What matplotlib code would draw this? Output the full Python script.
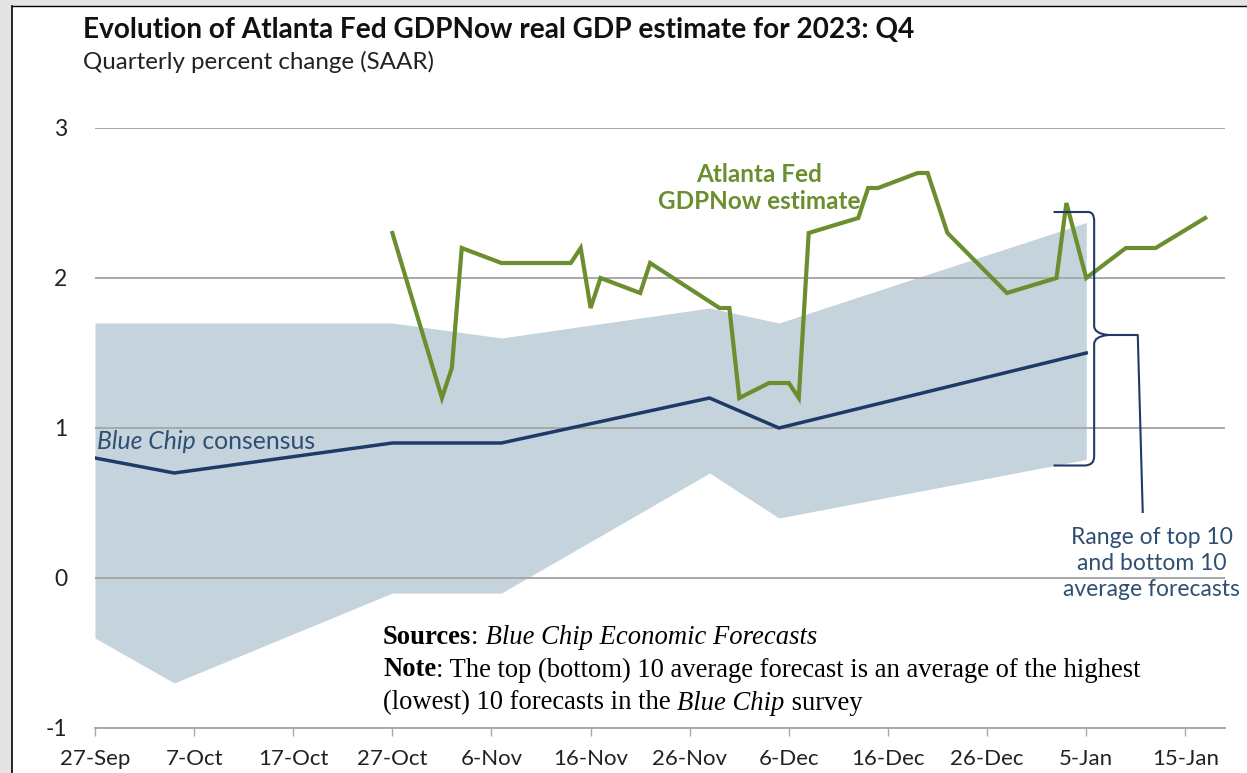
import numpy as np
import matplotlib
matplotlib.use("Agg")
import matplotlib.pyplot as plt
import matplotlib.dates as mdates
from matplotlib.path import Path
from matplotlib.patches import PathPatch, Rectangle
from matplotlib.lines import Line2D

# GDPNow estimates (Atlanta Fed)
gdpnow_dates = np.array([
    "2023-10-27", "2023-11-01", "2023-11-02", "2023-11-03", "2023-11-07",
    "2023-11-14", "2023-11-15", "2023-11-16", "2023-11-17", "2023-11-21",
    "2023-11-22", "2023-11-29", "2023-11-30", "2023-12-01", "2023-12-04",
    "2023-12-06", "2023-12-07", "2023-12-08", "2023-12-13", "2023-12-14",
    "2023-12-15", "2023-12-19", "2023-12-20", "2023-12-22", "2023-12-28",
    "2024-01-02", "2024-01-03", "2024-01-05", "2024-01-09", "2024-01-12",
    "2024-01-17"], dtype="datetime64[D]")
gdpnow_values = [2.3, 1.2, 1.4, 2.2, 2.1, 2.1, 2.2, 1.8, 2.0, 1.9,
                 2.1, 1.8, 1.8, 1.2, 1.3, 1.3, 1.2, 2.3, 2.4, 2.6,
                 2.6, 2.7, 2.7, 2.3, 1.9, 2.0, 2.5, 2.0, 2.2, 2.2, 2.4]

# Blue Chip survey
bc_dates = np.array(["2023-09-27", "2023-10-05", "2023-10-27", "2023-11-07",
                     "2023-11-28", "2023-12-05", "2024-01-05"], dtype="datetime64[D]")
bc_consensus = [0.8, 0.7, 0.9, 0.9, 1.2, 1.0, 1.5]
bc_top10 = [1.7, 1.7, 1.7, 1.6, 1.8, 1.7, 2.37]
bc_bottom10 = [-0.4, -0.7, -0.1, -0.1, 0.7, 0.4, 0.79]

tick_dates = np.array(["2023-09-27", "2023-10-07", "2023-10-17", "2023-10-27",
                       "2023-11-06", "2023-11-16", "2023-11-26", "2023-12-06",
                       "2023-12-16", "2023-12-26", "2024-01-05", "2024-01-15"],
                      dtype="datetime64[D]")
tick_labels = ["27-Sep", "7-Oct", "17-Oct", "27-Oct", "6-Nov", "16-Nov",
               "26-Nov", "6-Dec", "16-Dec", "26-Dec", "5-Jan", "15-Jan"]
y_ticks = [-1, 0, 1, 2, 3]

GREEN = "#6b8e2e"
NAVY = "#1f3a68"
LABEL_BLUE = "#2f4f72"
BAND = "#c5d3dd"
GRID = "#a8a8a8"
SANS = "Lato"

W, H = 1247, 773
fig = plt.figure(figsize=(W / 100, H / 100), dpi=100)
fig.patch.set_facecolor("#e4e4e4")
fig.add_artist(Rectangle((12 / W, 0), 1 - 12 / W, 1 - 6 / H, transform=fig.transFigure,
                         facecolor="white", edgecolor="none", zorder=-10))
fig.add_artist(Line2D([12 / W, 12 / W], [0, 1 - 6 / H], color="black", lw=1.2))
fig.add_artist(Line2D([12 / W, 1], [1 - 6 / H, 1 - 6 / H], color="black", lw=1.0))

ax = fig.add_axes([95 / W, 1 - 728 / H, 1130 / W, 600 / H])
ax.set_facecolor("none")

x_bc = mdates.date2num(bc_dates)
x_gn = mdates.date2num(gdpnow_dates)

ax.fill_between(x_bc, bc_bottom10, bc_top10, color=BAND, lw=0, zorder=1)
for y in y_ticks[1:]:
    ax.axhline(y, color=GRID, lw=1.4, zorder=2)
ax.plot(x_bc, bc_consensus, color=NAVY, lw=2.5, zorder=3, solid_joinstyle="miter")
ax.plot(x_gn, gdpnow_values, color=GREEN, lw=3.0, zorder=4, solid_joinstyle="miter")

ax.set_xlim(mdates.date2num(np.datetime64("2023-09-27")),
            mdates.date2num(np.datetime64("2024-01-19")))
ax.set_ylim(-1, 3)
ax.set_xticks(mdates.date2num(tick_dates))
ax.set_xticklabels(tick_labels, fontsize=16, family=SANS, color="#222222")
ax.set_yticks(y_ticks)
ax.set_yticklabels([str(v) for v in y_ticks], fontsize=16.5, family=SANS, color="#222222")
ax.tick_params(axis="x", length=6, width=1, color=GRID, pad=9)
ax.tick_params(axis="y", length=0, pad=20)
for s in ["top", "right", "left"]:
    ax.spines[s].set_visible(False)
ax.spines["bottom"].set_color(GRID)
ax.spines["bottom"].set_linewidth(1.4)

# brace around the last Blue Chip range
d_end = x_bc[-1]
ytop = bc_top10[-1] + 0.07
ybot = bc_bottom10[-1] - 0.04
ymid = 1.62
xv = d_end + 0.8
verts = [(d_end - 3.3, ytop), (d_end + 0.2, ytop),
         (xv, ytop), (xv, ytop - 0.06),
         (xv, ymid + 0.06),
         (xv, ymid + 0.01), (xv + 1.4, ymid),
         (xv, ymid - 0.01), (xv, ymid - 0.06),
         (xv, ybot + 0.06),
         (xv, ybot), (d_end - 0.2, ybot),
         (d_end - 3.3, ybot)]
codes = [Path.MOVETO, Path.LINETO,
         Path.CURVE3, Path.CURVE3,
         Path.LINETO,
         Path.CURVE3, Path.CURVE3,
         Path.CURVE3, Path.CURVE3,
         Path.LINETO,
         Path.CURVE3, Path.CURVE3,
         Path.LINETO]
ax.add_patch(PathPatch(Path(verts, codes), facecolor="none", edgecolor=NAVY, lw=1.5,
                       zorder=5, clip_on=False))
ax.plot([xv + 1.4, xv + 4.4, xv + 4.9], [ymid, ymid, 0.44], color=NAVY, lw=1.5,
        zorder=5, clip_on=False)

ax.text(xv + 5.8, 0.34, "Range of top 10\nand bottom 10\naverage forecasts",
        ha="center", va="top", fontsize=16.5, family=SANS, color=LABEL_BLUE,
        linespacing=1.28)
ax.text(mdates.date2num(np.datetime64("2023-12-03")), 2.6, "Atlanta Fed\nGDPNow estimate",
        ha="center", va="center", fontsize=17.5, family=SANS, fontweight="bold",
        color=GREEN, linespacing=1.2)

renderer = fig.canvas.get_renderer()


def runs(x_px, y_px, pieces, size, family, color):
    # draws pieces of text side by side, each with its own weight/style
    x = x_px / W
    for txt, weight, style in pieces:
        t = fig.text(x, 1 - y_px / H, txt, fontsize=size, family=family, fontweight=weight,
                     fontstyle=style, color=color, va="center", ha="left")
        bb = t.get_window_extent(renderer)
        x += bb.width / W


runs(83, 30, [("Evolution of Atlanta Fed GDPNow real GDP estimate for 2023: Q4", "bold", "normal")],
     20.2, SANS, "#111111")
runs(83, 62, [("Quarterly percent change (SAAR)", "normal", "normal")], 17.4, SANS, "#222222")
runs(97, 442, [("Blue Chip", "normal", "italic"), (" consensus", "normal", "normal")],
     17.8, SANS, LABEL_BLUE)

SERIF = "Liberation Serif"
runs(383, 637, [("Sources", "bold", "normal"), (":", "normal", "normal"),
                (" Blue Chip Economic Forecasts", "normal", "italic")], 19.2, SERIF, "black")
runs(383, 670, [("Note", "bold", "normal"),
                (": The top (bottom) 10 average forecast is an average of the highest",
                 "normal", "normal")], 19.2, SERIF, "black")
runs(383, 703, [("(lowest) 10 forecasts in the ", "normal", "normal"),
                ("Blue Chip", "normal", "italic"), (" survey", "normal", "normal")],
     19.2, SERIF, "black")

fig.savefig("out.png", dpi=100, facecolor=fig.get_facecolor())
